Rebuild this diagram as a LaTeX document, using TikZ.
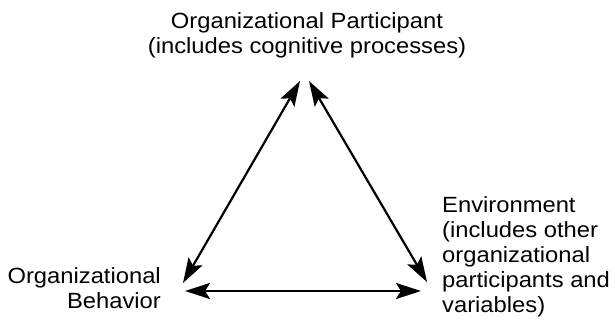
\documentclass[tikz,border=0pt]{standalone}
\usepackage{fontspec}
\setmainfont{Liberation Sans}[FakeStretch=1.08]
\usepackage{tikz}
\usetikzlibrary{positioning,calc,arrows.meta}

\tikzset{
    label text/.style={inner sep=0pt, font=\fontsize{22}{25}\selectfont},
    link/.style={line width=2.2pt, {Stealth[length=25pt,width=16pt,inset=5pt]}-{Stealth[length=25pt,width=16pt,inset=5pt]}}
}

\begin{document}
\begin{tikzpicture}[x=1pt,y=-1pt]
    \useasboundingbox (0,0) rectangle (615,326);

    % Labels
    \node[label text, anchor=north, align=center] (part) at (307,12)
        {Organizational Participant\\(includes cognitive processes)};
    \node[label text, anchor=north east, align=right] (behav) at (161,267)
        {Organizational\\Behavior};
    \node[label text, anchor=north west, align=left] (env) at (442,196)
        {Environment\\(includes other\\organizational\\participants and\\variables)};

    % Arrow ends
    \coordinate (partL) at (300,81);
    \coordinate (partR) at (309,81);
    \coordinate (behavT) at (183,283);
    \coordinate (behavR) at (185,291);
    \coordinate (envT) at (427,282);
    \coordinate (envL) at (421,291);

    % Triangle
    \draw[link] (partL) -- (behavT);
    \draw[link] (partR) -- (envT);
    \draw[link] (behavR) -- (envL);
\end{tikzpicture}
\end{document}
